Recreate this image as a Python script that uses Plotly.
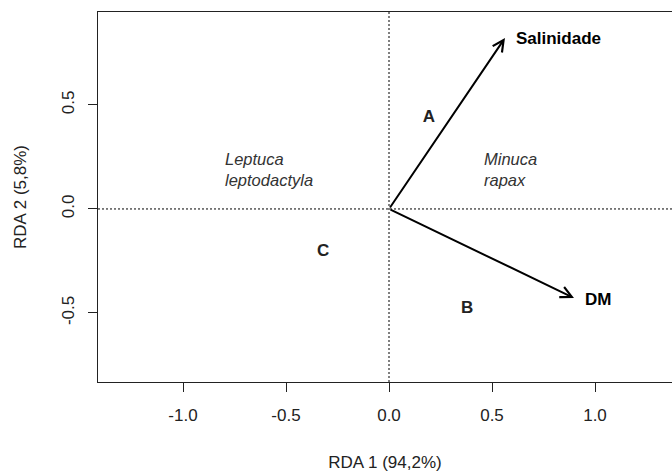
import plotly.graph_objects as go

# Biplot scores: environmental vectors
env_names = ["Salinidade", "DM"]
env_x = [0.563, 0.898]
env_y = [0.822, -0.428]

# Group centroids
group_names = ["A", "B", "C"]
group_x = [0.194, 0.379, -0.320]
group_y = [0.437, -0.478, -0.204]

# Species labels
species_names = ["Leptuca<br>leptodactyla", "Minuca<br>rapax"]
species_x = [-0.806, 0.452]
species_y = [0.192, 0.192]

x_ticks = [-1.0, -0.5, 0.0, 0.5, 1.0]
y_ticks = [-0.5, 0.0, 0.5]

FONT = "Liberation Sans, Arial, sans-serif"
FS = 17
TXT = "#222222"

fig = go.Figure()

# Group letters
fig.add_trace(go.Scatter(
    x=group_x, y=group_y, mode="text",
    text=[f"<b>{g}</b>" for g in group_names],
    textfont=dict(family=FONT, size=FS, color=TXT),
    textposition="middle center", hoverinfo="skip", showlegend=False,
))

annotations = []
# Environmental arrows from the origin
for name, ex, ey in zip(env_names, env_x, env_y):
    annotations.append(dict(
        x=ex, y=ey, ax=0, ay=0, xref="x", yref="y", axref="x", ayref="y",
        text="", showarrow=True, arrowhead=5, arrowsize=1.1, arrowwidth=2,
        arrowcolor="black", standoff=0, startstandoff=0,
    ))
    annotations.append(dict(
        x=ex, y=ey, xref="x", yref="y", text=f"<b>{name}</b>",
        showarrow=False, xanchor="left", yanchor="middle",
        xshift=9, yshift=-2 if ey < 0 else 0,
        font=dict(family=FONT, size=FS, color="black"),
    ))

# Species names
for name, sx, sy in zip(species_names, species_x, species_y):
    annotations.append(dict(
        x=sx, y=sy, xref="x", yref="y", text=f"<i>{name}</i>",
        showarrow=False, xanchor="left", yanchor="middle", align="left",
        font=dict(family=FONT, size=FS - 0.5, color="#333333"),
    ))

# Dotted reference lines through the origin
shapes = [
    dict(type="line", xref="x", yref="paper", x0=0, x1=0, y0=0, y1=1,
         line=dict(color="black", width=1, dash="2px,2px")),
    dict(type="line", xref="paper", yref="y", x0=0, x1=1, y0=0, y1=0,
         line=dict(color="black", width=1, dash="2px,2px")),
]

fig.update_layout(
    width=672, height=475,
    margin=dict(l=98, r=0, t=12, b=93),
    paper_bgcolor="white", plot_bgcolor="white",
    font=dict(family=FONT, size=FS, color=TXT),
    annotations=annotations, shapes=shapes,
    showlegend=False,
)

fig.update_xaxes(
    range=[-1.4126, 1.3738], tickvals=x_ticks,
    ticktext=[f"{v:.1f}" for v in x_ticks],
    showgrid=False, zeroline=False,
    showline=True, mirror=True, linecolor="#222222", linewidth=1,
    ticks="outside", ticklen=9, tickcolor="#222222", ticklabelstandoff=9,
    tickfont=dict(family=FONT, size=FS, color=TXT),
    title=dict(text="RDA 1 (94,2%)", standoff=31,
               font=dict(family=FONT, size=FS, color=TXT)),
    automargin=False,
)
fig.update_yaxes(
    range=[-0.832, 0.947], tickvals=y_ticks,
    ticktext=[f"{v:.1f}" for v in y_ticks],
    showgrid=False, zeroline=False,
    showline=True, mirror=False, linecolor="#222222", linewidth=1,
    ticks="outside", ticklen=9, tickcolor="#222222", tickangle=-90,
    ticklabelstandoff=7,
    tickfont=dict(family=FONT, size=FS, color=TXT),
    title=dict(text="RDA 2 (5,8%)", standoff=28,
               font=dict(family=FONT, size=FS, color=TXT)),
    automargin=False,
)

fig.write_html("out.html")
